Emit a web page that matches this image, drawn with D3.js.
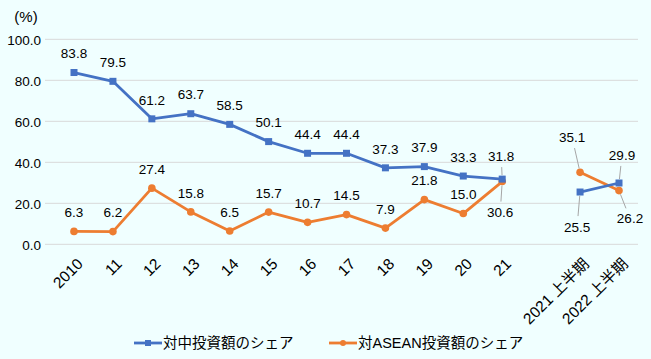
<!DOCTYPE html>
<html><head><meta charset="utf-8">
<script src="https://cdn.jsdelivr.net/npm/d3@7"></script>
<style>
html,body{margin:0;padding:0;background:#F0FFFF;}
svg{display:block;font-family:"Liberation Sans","Noto Sans CJK JP",sans-serif;}
</style></head>
<body>
<svg id="c" width="651" height="359"></svg>
<script>
const categories = ["2010","11","12","13","14","15","16","17","18","19","20","21","","2021 上半期","2022 上半期"];
const chinaShare = [83.8,79.5,61.2,63.7,58.5,50.1,44.4,44.4,37.3,37.9,33.3,31.8,null,25.5,29.9];
const aseanShare = [6.3,6.2,27.4,15.8,6.5,15.7,10.7,14.5,7.9,21.8,15.0,30.6,null,35.1,26.2];
const yTicks = [0,20,40,60,80,100];
const seriesNames = ["対中投資額のシェア","対ASEAN投資額のシェア"];

const svg = d3.select("#c");
const W = 651, H = 359;
svg.append("rect").attr("width",W).attr("height",H).attr("fill","#F0FFFF");

const x = d3.scalePoint().domain(d3.range(categories.length)).range([74,619]);
const y = d3.scaleLinear().domain([0,100]).range([244.3,39.3]);
const gridX0 = 45, gridX1 = 638;

svg.append("g").selectAll("line").data(yTicks).join("line")
  .attr("x1",gridX0).attr("x2",gridX1)
  .attr("y1",d=>y(d)).attr("y2",d=>y(d))
  .attr("stroke","#D9D9D9").attr("stroke-width",1);

const yAxis = d3.axisLeft(y).tickValues(yTicks).tickFormat(d3.format(".1f")).tickSize(0).tickPadding(0);
const gy = svg.append("g").attr("transform","translate(41,0)").call(yAxis);
gy.select(".domain").remove();
gy.selectAll("text").attr("font-size",13.5).attr("fill","#000").attr("font-family","Liberation Sans, Noto Sans CJK JP, sans-serif").attr("dy","0.35em");

svg.append("text").attr("x",26).attr("y",22).attr("text-anchor","middle")
  .attr("font-size",15).attr("fill","#000").text("(%)");

const xAxis = d3.axisBottom(x).tickFormat(i=>categories[i]).tickSize(0).tickPadding(0);
const gx = svg.append("g").call(xAxis);
gx.select(".domain").remove();
gx.selectAll(".tick").attr("transform",i=>`translate(${x(i)+6},261)`);
gx.selectAll("text").attr("font-size",15.5).attr("fill","#000")
  .attr("font-family","Liberation Sans, Noto Sans CJK JP, sans-serif")
  .attr("text-anchor","end").attr("y",0).attr("dy","0.35em")
  .attr("transform","rotate(-45)");

const blue = "#4472C4", orange = "#ED7D31";

function drawSeries(vals,color,marker){
  const line = d3.line().defined(d=>d!=null).x((d,i)=>x(i)).y(d=>y(d));
  svg.append("path").datum(vals).attr("d",line).attr("fill","none")
    .attr("stroke",color).attr("stroke-width",2.8).attr("stroke-linejoin","round");
  const pts = vals.map((v,i)=>({v,i})).filter(d=>d.v!=null);
  if(marker==="square"){
    svg.append("g").selectAll("rect").data(pts).join("rect")
      .attr("x",d=>x(d.i)-3.5).attr("y",d=>y(d.v)-3.5).attr("width",7).attr("height",7).attr("fill",color);
  } else {
    svg.append("g").selectAll("circle").data(pts).join("circle")
      .attr("cx",d=>x(d.i)).attr("cy",d=>y(d.v)).attr("r",3.8).attr("fill",color);
  }
}
drawSeries(aseanShare,orange,"circle");
drawSeries(chinaShare,blue,"square");

const labelOverrides = {
  "c11":[-1,-23,true], "a11":[-2,31,true],
  "c13":[-3,35,true], "a13":[-8,-35,true],
  "c14":[3,-28,true], "a14":[11,28,true]
};
function drawLabels(vals,key){
  vals.forEach((v,i)=>{
    if(v==null) return;
    const px = x(i), py = y(v);
    const o = labelOverrides[key+i] || [0,-19,false];
    const lx = px+o[0], ly = py+o[1];
    if(o[2]){
      const dx = lx-px, dy = ly-py;
      const len = Math.hypot(dx,dy);
      const sx = px + dx/len*4, sy = py + dy/len*4;
      const ex = lx - dx/len*11, ey = ly - dy/len*11;
      svg.append("line").attr("x1",sx).attr("y1",sy).attr("x2",ex).attr("y2",ey)
        .attr("stroke","#A6A6A6").attr("stroke-width",1);
    }
    svg.append("text").attr("x",lx).attr("y",ly).attr("dy","0.35em")
      .attr("text-anchor","middle").attr("font-size",13.5).attr("fill","#000")
      .text(d3.format(".1f")(v));
  });
}
drawLabels(chinaShare,"c");
drawLabels(aseanShare,"a");

const lg = svg.append("g");
const legendItems = [{name:seriesNames[0],color:blue,m:"square",x0:134},{name:seriesNames[1],color:orange,m:"circle",x0:329}];
legendItems.forEach(it=>{
  const ly = 343;
  lg.append("line").attr("x1",it.x0).attr("x2",it.x0+28).attr("y1",ly).attr("y2",ly)
    .attr("stroke",it.color).attr("stroke-width",2.8);
  if(it.m==="square") lg.append("rect").attr("x",it.x0+14-3).attr("y",ly-3).attr("width",6).attr("height",6).attr("fill",it.color);
  else lg.append("circle").attr("cx",it.x0+14).attr("cy",ly).attr("r",3).attr("fill",it.color);
  lg.append("text").attr("x",it.x0+29).attr("y",ly).attr("dy","0.35em")
    .attr("font-size",14.5).attr("fill","#000").text(it.name);
});
</script>
</body></html>
